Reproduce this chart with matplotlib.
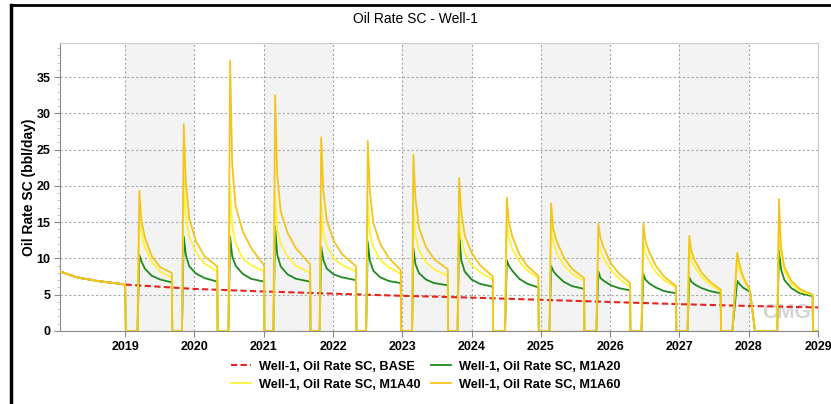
import numpy as np
import matplotlib
matplotlib.use("Agg")
import matplotlib.pyplot as plt
from matplotlib.lines import Line2D
from matplotlib.ticker import MultipleLocator

# base case decline (decimal years, bbl/day)
base_t = [2018.06, 2018.3, 2018.6, 2019.0, 2020.0, 2021.0, 2022.0, 2023.0,
          2024.0, 2025.0, 2026.0, 2027.0, 2028.0, 2029.0]
base_v = [8.2, 7.4, 6.9, 6.4, 5.8, 5.45, 5.15, 4.85, 4.6, 4.3, 4.0, 3.7, 3.45, 3.25]

# history shared by all huff-n-puff cases, then shut in at start of 2019
hist_t = [2018.06, 2018.3, 2018.6, 2019.0]
hist_v = [8.2, 7.4, 6.9, 6.4]
shut_t = 2019.01

# cycle timing: reopen, peak, last producing point, back to zero
rise_t = [2019.178, 2019.82, 2020.49, 2021.14, 2021.807, 2022.478, 2023.141, 2023.798,
          2024.483, 2025.125, 2025.80, 2026.452, 2027.116, 2027.762, 2028.411]
peak_t = [2019.205, 2019.846, 2020.515, 2021.165, 2021.83, 2022.502, 2023.16, 2023.82,
          2024.508, 2025.147, 2025.83, 2026.478, 2027.142, 2027.834, 2028.436]
end_t = [2019.674, 2020.33, 2021.006, 2021.67, 2022.333, 2022.978, 2023.657, 2024.306,
         2024.964, 2025.623, 2026.287, 2026.95, 2027.595, 2028.018, 2028.922]
off_t = [2019.68, 2020.335, 2021.01, 2021.675, 2022.338, 2022.983, 2023.662, 2024.31,
         2024.97, 2025.628, 2026.292, 2026.955, 2027.6, 2028.09, 2028.927]

# rates at peak, +0.03, +0.08, +0.18, +0.3 yr after peak, and at end of cycle
node_dt = [0.0, 0.03, 0.08, 0.18, 0.3]
nan = float("nan")

m1a20 = [
    [10.5, 9.6, 8.6, 7.6, 7.1, 6.7],
    [13.0, 10.5, 8.9, 7.9, 7.3, 6.8],
    [13.0, 10.3, 9.0, 7.9, 7.2, 6.8],
    [14.4, 10.5, 8.9, 7.8, 7.2, 6.8],
    [11.6, 9.8, 8.6, 7.8, 7.4, 7.0],
    [12.3, 9.7, 8.3, 7.4, 6.9, 6.6],
    [11.4, 9.2, 8.0, 7.1, 6.6, 6.3],
    [13.8, 9.8, 8.2, 7.1, 6.5, 6.1],
    [9.8, 9.0, 8.3, 7.2, 6.5, 6.0],
    [9.0, 8.3, 7.7, 6.8, 6.2, 5.8],
    [8.2, 7.3, 6.9, 6.3, 5.9, 5.6],
    [7.9, 7.1, 6.6, 6.0, 5.5, 5.2],
    [7.4, 6.8, 6.4, 5.9, 5.5, 5.2],
    [6.9, 6.5, 6.0, nan, nan, 5.4],
    [11.2, 8.5, 7.0, 5.9, 5.2, 4.8],
]

m1a40 = [
    [15.5, 13.5, 11.6, 9.5, 8.2, 7.3],
    [21.0, 16.0, 13.0, 10.8, 9.3, 8.2],
    [20.0, 14.5, 12.1, 10.0, 9.1, 8.2],
    [19.0, 14.0, 12.0, 10.3, 9.0, 8.0],
    [17.5, 13.5, 11.7, 10.0, 9.1, 8.2],
    [18.0, 13.6, 11.6, 9.8, 8.8, 7.9],
    [17.0, 13.2, 11.2, 9.5, 8.5, 7.6],
    [16.5, 12.8, 10.8, 9.1, 8.1, 7.1],
    [15.0, 12.8, 11.3, 9.6, 8.3, 7.3],
    [14.5, 12.2, 10.8, 9.1, 7.9, 6.9],
    [12.5, 11.0, 9.9, 8.4, 7.2, 6.1],
    [12.3, 10.8, 9.7, 8.1, 7.0, 6.0],
    [11.5, 9.8, 8.8, 7.4, 6.4, 5.5],
    [9.5, 8.5, 7.2, nan, nan, 5.5],
    [15.0, 10.5, 8.2, 6.5, 5.5, 4.95],
]

m1a60 = [
    [19.3, 15.2, 12.9, 10.3, 8.8, 8.0],
    [28.5, 20.5, 15.5, 12.3, 10.3, 8.9],
    [37.3, 23.0, 17.2, 13.8, 11.5, 9.0],
    [32.5, 21.5, 16.5, 13.5, 11.4, 9.2],
    [26.7, 19.5, 15.2, 12.4, 10.6, 8.9],
    [26.2, 19.2, 14.9, 12.0, 10.1, 8.4],
    [24.3, 18.3, 14.3, 11.6, 9.9, 8.5],
    [21.1, 16.5, 13.2, 10.8, 9.1, 7.5],
    [18.4, 15.0, 13.0, 10.6, 8.9, 7.6],
    [17.6, 14.2, 12.4, 10.2, 8.6, 7.3],
    [14.8, 12.8, 11.4, 9.3, 7.9, 6.6],
    [14.8, 12.5, 11.0, 9.0, 7.5, 6.2],
    [13.1, 11.0, 9.7, 8.0, 6.8, 5.7],
    [10.8, 9.3, 7.6, nan, nan, 5.6],
    [18.2, 11.5, 8.8, 6.9, 5.8, 5.0],
]

years = list(range(2019, 2030))
x_start, x_end = 2018.06, 2029.0


def build_series(cycles):
    t = list(hist_t) + [shut_t]
    v = list(hist_v) + [0.0]
    for i, row in enumerate(cycles):
        t.append(rise_t[i])
        v.append(0.0)
        for dt, val in zip(node_dt, row[:-1]):
            if not np.isnan(val):
                t.append(peak_t[i] + dt)
                v.append(val)
        t.append(end_t[i])
        v.append(row[-1])
        t.append(off_t[i])
        v.append(0.0)
    t.append(x_end)
    v.append(0.0)
    return t, v


plt.rcParams['font.family'] = ['Liberation Sans', 'DejaVu Sans']

fig = plt.figure(figsize=(8.31, 4.04), dpi=100)
ax = fig.add_axes([0.0722, 0.1807, 0.9122, 0.7129])

# alternating year bands
for y0 in range(2019, 2029, 2):
    ax.axvspan(y0, y0 + 1, color='#f3f3f3', zorder=0, lw=0)

ax.grid(True, color='#a8a8a8', linestyle=(0, (2, 2)), linewidth=0.8, zorder=1)

ax.plot(base_t, base_v, color='#e3261f', linestyle=(0, (3, 1.6)), lw=1.5, zorder=3,
        label='Well-1, Oil Rate SC, BASE')
t20, v20 = build_series(m1a20)
t40, v40 = build_series(m1a40)
t60, v60 = build_series(m1a60)
ax.plot(t20, v20, color='#1f8a1f', lw=1.3, zorder=4, label='Well-1, Oil Rate SC, M1A20')
ax.plot(t40, v40, color='#fff23a', lw=1.3, zorder=5, label='Well-1, Oil Rate SC, M1A40')
ax.plot(t60, v60, color='#f2c51e', lw=1.3, zorder=6, label='Well-1, Oil Rate SC, M1A60')

ax.set_xlim(x_start, x_end)
ax.set_ylim(0, 39.7)
ax.set_xticks(years)
ax.set_xticklabels([str(y) for y in years], fontweight='bold', fontsize=9)
ax.yaxis.set_major_locator(MultipleLocator(5))
ax.yaxis.set_minor_locator(MultipleLocator(1))
for lab in ax.get_yticklabels():
    lab.set_fontweight('bold')
    lab.set_fontsize(9)
ax.tick_params(axis='both', which='major', length=4, color='#888888', pad=3)
ax.tick_params(axis='y', which='minor', length=2, color='#bbbbbb')

for side in ['left', 'bottom']:
    ax.spines[side].set_color('#8a8a8a')
for side in ['top', 'right']:
    ax.spines[side].set_color('#cccccc')

ax.set_ylabel('Oil Rate SC (bbl/day)', fontweight='bold', fontsize=10)
ax.yaxis.set_label_coords(-0.031, 0.5)

# faint software watermark
ax.text(2028.55, 1.2, 'CMG', color='#d4d4d4', fontsize=15, fontweight='bold',
        ha='center', va='bottom', zorder=2)

fig.text(0.5, 0.953, 'Oil Rate SC - Well-1', ha='center', va='center', fontsize=10)

h, l = ax.get_legend_handles_labels()
order = [0, 2, 1, 3]
fig.legend([h[i] for i in order], [l[i] for i in order], ncol=2, loc='center',
           bbox_to_anchor=(0.512, 0.07), frameon=False, handlelength=1.6,
           columnspacing=0.8, handletextpad=0.6, labelspacing=0.45,
           prop={'weight': 'bold', 'size': 9.2})

# outer frame edges
fig.add_artist(Line2D([0.0135, 0.0135], [0, 0.988], color='black', lw=2.5))
fig.add_artist(Line2D([0.0135, 1.0], [0.988, 0.988], color='black', lw=2))

fig.savefig('out.png', dpi=100)
